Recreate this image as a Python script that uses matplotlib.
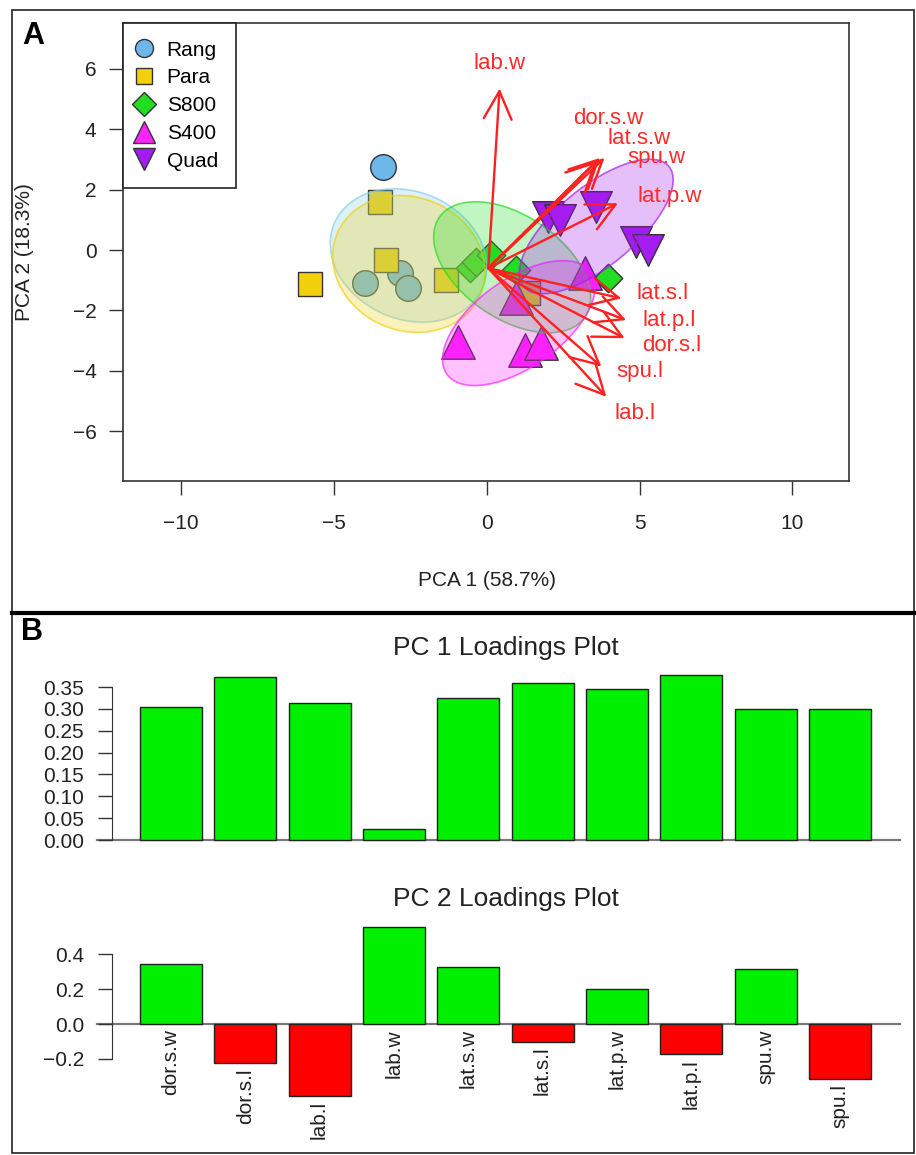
import numpy as np
import matplotlib
matplotlib.use("Agg")
import matplotlib.pyplot as plt
from matplotlib.patches import Ellipse, Rectangle, FancyArrowPatch
from matplotlib.lines import Line2D

plt.rcParams["font.family"] = ["Liberation Sans", "DejaVu Sans"]

#pca scores of each population
group_names = ["Rang", "Para", "S800", "S400", "Quad"]
rang_x = [-3.39, -3.99, -2.84, -2.57]
rang_y = [2.76, -1.10, -0.77, -1.27]
para_x = [-3.50, -3.28, -5.78, -1.32, 1.35]
para_y = [1.60, -0.33, -1.14, -0.99, -1.43]
s800_x = [-0.56, -0.35, 0.15, 0.97, 3.95]
s800_y = [-0.61, -0.40, -0.17, -0.66, -0.93]
s400_x = [-0.94, 1.24, 1.79, 3.20, 0.97]
s400_y = [-3.03, -3.31, -3.09, -0.77, -1.60]
quad_x = [2.00, 2.39, 3.58, 4.89, 5.27]
quad_y = [1.10, 0.99, 1.43, 0.27, 0.00]

#confidence ellipse of each population (centre, width, height, angle)
ellipse_x = [-2.56, -2.55, 0.83, 1.05, 3.58]
ellipse_y = [-0.18, -0.46, -0.57, -2.42, 0.78]
ellipse_w = [5.3, 5.1, 5.8, 5.8, 6.2]
ellipse_h = [4.2, 4.4, 3.4, 2.9, 2.6]
ellipse_angle = [-25, -25, -35, 36, 40]

#variable loadings drawn as arrows
arrow_names = ["lab.w", "dor.s.w", "lat.s.w", "spu.w", "lat.p.w",
               "lat.s.l", "lat.p.l", "dor.s.l", "spu.l", "lab.l"]
arrow_x = [0.42, 3.70, 3.85, 3.60, 4.29, 4.40, 4.56, 4.51, 3.75, 3.91]
arrow_y = [5.35, 3.05, 3.05, 2.95, 1.55, -1.60, -2.32, -2.92, -3.86, -4.86]
arrow_label_x = [0.42, 3.96, 5.00, 5.55, 5.98, 5.76, 5.98, 6.04, 5.00, 4.84]
arrow_label_y = [6.18, 4.36, 3.70, 3.05, 1.77, -1.43, -2.32, -3.15, -4.03, -5.41]
arrow_origin = (0.05, -0.60)

#loadings of the two components
loading_names = ["dor.s.w", "dor.s.l", "lab.l", "lab.w", "lat.s.w",
                 "lat.s.l", "lat.p.w", "lat.p.l", "spu.w", "spu.l"]
pc1_loadings = [0.305, 0.374, 0.314, 0.025, 0.324, 0.359, 0.345, 0.378, 0.300, 0.300]
pc2_loadings = [0.343, -0.226, -0.411, 0.559, 0.329, -0.101, 0.203, -0.174, 0.316, -0.316]

W, H = 916, 1155


def px_rect(left, top, right, bottom):
    #pixel box to figure fraction
    return [left / W, 1 - bottom / H, (right - left) / W, (bottom - top) / H]


def px(x, y):
    return x / W, 1 - y / H


def bar_axes(ax, ymin, ymax, ticks, fmt):
    ax.set_xlim(-0.252, 12.47)
    ax.set_ylim(ymin, ymax)
    for side in ["top", "right", "bottom"]:
        ax.spines[side].set_visible(False)
    ax.spines["left"].set_bounds(ticks[0], ticks[-1])
    ax.spines["left"].set_color("#333333")
    ax.set_xticks([])
    ax.set_yticks(ticks)
    ax.set_yticklabels([fmt % t for t in ticks])
    ax.tick_params(axis="y", direction="out", length=10, width=1, pad=10,
                   labelsize=15, colors="#333333", labelcolor="#222222")
    ax.plot([-0.49, 12.47], [0, 0], color="#777777", lw=1.6, clip_on=False, zorder=1)


def main():
    fig = plt.figure(figsize=(W / 100, H / 100), dpi=100)

    #panel frames
    fig.add_artist(Rectangle(px(12, 613), 902 / W, 603 / H, transform=fig.transFigure,
                             fill=False, edgecolor="#222222", lw=1.2))
    fig.add_artist(Rectangle(px(12, 1153), 902 / W, 540 / H, transform=fig.transFigure,
                             fill=False, edgecolor="#222222", lw=1.2))
    fig.add_artist(Line2D([12 / W, 914 / W], [1 - 613 / H, 1 - 613 / H],
                          transform=fig.transFigure, color="black", lw=3))

    #panel A: pca biplot
    ax = fig.add_axes(px_rect(123, 23, 849, 481))
    ax.set_xlim(-11.9, 11.85)
    ax.set_ylim(-7.65, 7.52)

    colors = ["#6cb6ea", "#f2d00c", "#22dd22", "#ff22ff", "#a41cf0"]
    fills = ["#87ceeb", "#f0d00c", "#22dd22", "#ff22ff", "#a41cf0"]
    markers = ["o", "s", "D", "^", "v"]
    sizes = [340, 300, 210, 580, 520]
    xs = [rang_x, para_x, s800_x, s400_x, quad_x]
    ys = [rang_y, para_y, s800_y, s400_y, quad_y]

    for i in range(5):
        ax.scatter(xs[i], ys[i], s=sizes[i], marker=markers[i], c=colors[i],
                   edgecolors="#333333", linewidths=1, zorder=2)

    #ellipses go over the points like in the original
    for i in range(5):
        e = Ellipse((ellipse_x[i], ellipse_y[i]), ellipse_w[i], ellipse_h[i],
                    angle=ellipse_angle[i], facecolor=fills[i], alpha=0.28,
                    edgecolor="none", zorder=3)
        ax.add_patch(e)
        e2 = Ellipse((ellipse_x[i], ellipse_y[i]), ellipse_w[i], ellipse_h[i],
                     angle=ellipse_angle[i], fill=False, edgecolor=fills[i],
                     alpha=0.7, lw=1.2, zorder=3)
        ax.add_patch(e2)

    for i in range(len(arrow_names)):
        a = FancyArrowPatch(arrow_origin, (arrow_x[i], arrow_y[i]),
                            arrowstyle="->,head_length=1.0,head_width=0.5",
                            mutation_scale=20, color="#ff2020", lw=1.7,
                            shrinkA=0, shrinkB=0, zorder=4)
        ax.add_patch(a)
        ax.text(arrow_label_x[i], arrow_label_y[i], arrow_names[i], color="#ff2a2a",
                fontsize=16, ha="center", va="center", zorder=5)

    ax.set_xticks([-10, -5, 0, 5, 10])
    ax.set_yticks([-6, -4, -2, 0, 2, 4, 6])
    ax.set_xticklabels(["\u221210", "\u22125", "0", "5", "10"])
    ax.set_yticklabels(["\u22126", "\u22124", "\u22122", "0", "2", "4", "6"])
    ax.tick_params(axis="x", direction="out", length=10, width=1, pad=14,
                   labelsize=15, colors="#333333", labelcolor="#222222")
    ax.tick_params(axis="y", direction="out", length=10, width=1, pad=9,
                   labelsize=15, colors="#333333", labelcolor="#222222")
    for s in ax.spines.values():
        s.set_color("#333333")
        s.set_linewidth(1.2)

    handles = [Line2D([], [], marker=markers[i], color="none", markerfacecolor=colors[i],
                      markeredgecolor="#333333", markersize=[13, 11, 12, 16, 16][i])
               for i in range(5)]
    leg = ax.legend(handles, group_names, loc="upper left", bbox_to_anchor=(0, 1),
                    borderaxespad=0, fancybox=False, edgecolor="#222222", framealpha=1,
                    fontsize=15, handlelength=0.3, handletextpad=0.95, labelspacing=0.42,
                    borderpad=0.85)
    leg.get_frame().set_linewidth(1.2)
    leg.set_zorder(6)

    fig.text(*px(25, 252), "PCA 2 (18.3%)", rotation=90, ha="center", va="center",
             fontsize=15, color="#222222")
    fig.text(*px(487, 580), "PCA 1 (58.7%)", ha="center", va="center",
             fontsize=15, color="#222222")
    fig.text(*px(33, 36), "A", ha="center", va="center", fontsize=22,
             fontweight="heavy")

    #panel B: loadings bar plots
    pos = 0.7 + 1.2 * np.arange(len(loading_names))

    ax1 = fig.add_axes(px_rect(112, 668.3, 900, 846.6))
    bar_axes(ax1, -0.015, 0.393, [0.0, 0.05, 0.10, 0.15, 0.20, 0.25, 0.30, 0.35], "%.2f")
    ax1.bar(pos, pc1_loadings, width=1.0, color="#00f000", edgecolor="#222222",
            lw=1, zorder=2)

    ax2 = fig.add_axes(px_rect(112, 920, 900, 1102.3))
    bar_axes(ax2, -0.45, 0.598, [-0.2, 0.0, 0.2, 0.4], "%.1f")
    ax2.set_yticklabels(["\u22120.2", "0.0", "0.2", "0.4"])
    pc2_colors = ["#00f000" if v > 0 else "#ff0000" for v in pc2_loadings]
    ax2.bar(pos, pc2_loadings, width=1.0, color=pc2_colors, edgecolor="#222222",
            lw=1, zorder=2)
    for x, v, name in zip(pos, pc2_loadings, loading_names):
        ax2.text(x, min(0, v) - 0.03, name, rotation=90, ha="center", va="top",
                 fontsize=15, color="#222222", clip_on=False)

    fig.text(*px(506, 648), "PC 1 Loadings Plot", ha="center", va="center",
             fontsize=19, color="#222222")
    fig.text(*px(506, 899), "PC 2 Loadings Plot", ha="center", va="center",
             fontsize=19, color="#222222")
    fig.text(*px(32, 632), "B", ha="center", va="center", fontsize=22,
             fontweight="heavy")

    fig.savefig("out.png", dpi=100)


if __name__ == "__main__":
    main()
